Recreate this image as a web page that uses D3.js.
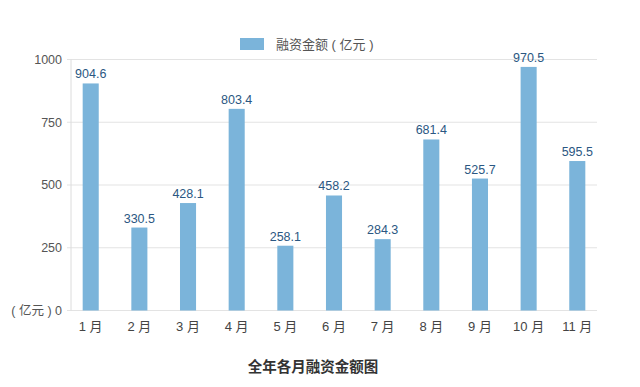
<!DOCTYPE html>
<html>
<head>
<meta charset="utf-8">
<script src="https://cdn.jsdelivr.net/npm/d3@7"></script>
<style>
  body { margin: 0; background: #fff; }
  text { font-family: "Liberation Sans", "Noto Sans CJK SC", sans-serif; }
</style>
</head>
<body>
<div id="chart"></div>
<script>
// data
var months = ["1月", "2月", "3月", "4月", "5月", "6月", "7月", "8月", "9月", "10月", "11月"];
var amounts = [904.6, 330.5, 428.1, 803.4, 258.1, 458.2, 284.3, 681.4, 525.7, 970.5, 595.5];
var yTicks = [0, 250, 500, 750, 1000];
var seriesName = "融资金额 ( 亿元 )";
var chartTitle = "全年各月融资金额图";
var unitLabel = "( 亿元 )";

var svgWidth = 640;
var svgHeight = 387;

var svg = d3.select("#chart")
  .append("svg")
  .attr("width", svgWidth)
  .attr("height", svgHeight);

// scales
var xScale = d3.scaleBand()
  .domain(months)
  .range([71, 597])
  .paddingInner(0.67)
  .paddingOuter(0.24);

var yScale = d3.scaleLinear()
  .domain([0, 1000])
  .range([310.5, 59.5]);

// gridlines
svg.append("g")
  .selectAll("line")
  .data(yTicks)
  .enter()
  .append("line")
  .attr("x1", 67)
  .attr("x2", 597)
  .attr("y1", d => yScale(d))
  .attr("y2", d => yScale(d))
  .attr("stroke", "#e3e3e3")
  .attr("stroke-width", 1);

// y axis line
svg.append("line")
  .attr("x1", 71).attr("x2", 71)
  .attr("y1", yScale(1000)).attr("y2", yScale(0))
  .attr("stroke", "#dcdcdc");

// y tick labels
svg.append("g")
  .selectAll("text")
  .data(yTicks)
  .enter()
  .append("text")
  .attr("x", 62)
  .attr("y", d => yScale(d))
  .attr("dy", "0.35em")
  .attr("text-anchor", "end")
  .attr("font-size", "12.5px")
  .attr("fill", "#555")
  .text(d => d === 0 ? unitLabel + " 0" : d);

// bars
svg.append("g")
  .selectAll("rect")
  .data(amounts)
  .enter()
  .append("rect")
  .attr("x", (d, i) => xScale(months[i]))
  .attr("y", d => yScale(d))
  .attr("width", xScale.bandwidth())
  .attr("height", d => yScale(0) - yScale(d))
  .attr("fill", "#7bb4da");

// value labels
svg.append("g")
  .selectAll("text")
  .data(amounts)
  .enter()
  .append("text")
  .attr("x", (d, i) => xScale(months[i]) + xScale.bandwidth() / 2)
  .attr("y", d => yScale(d) - 5)
  .attr("text-anchor", "middle")
  .attr("font-size", "12.5px")
  .attr("fill", "#2b5782")
  .text(d => d.toFixed(1));

// x labels
svg.append("g")
  .selectAll("text")
  .data(months)
  .enter()
  .append("text")
  .attr("x", d => xScale(d) + xScale.bandwidth() / 2)
  .attr("y", 331)
  .attr("text-anchor", "middle")
  .attr("font-size", "13px")
  .attr("fill", "#444")
  .text(d => d.replace("月", " 月"));

// legend
svg.append("rect")
  .attr("x", 240).attr("y", 38)
  .attr("width", 24).attr("height", 12)
  .attr("fill", "#7bb4da");

svg.append("text")
  .attr("x", 276).attr("y", 44)
  .attr("dy", "0.35em")
  .attr("font-size", "13px")
  .attr("fill", "#555")
  .text(seriesName);

// title
svg.append("text")
  .attr("x", 313).attr("y", 367)
  .attr("dy", "0.35em")
  .attr("text-anchor", "middle")
  .attr("font-size", "14.5px")
  .attr("font-weight", "bold")
  .attr("fill", "#333")
  .text(chartTitle);
</script>
</body>
</html>
